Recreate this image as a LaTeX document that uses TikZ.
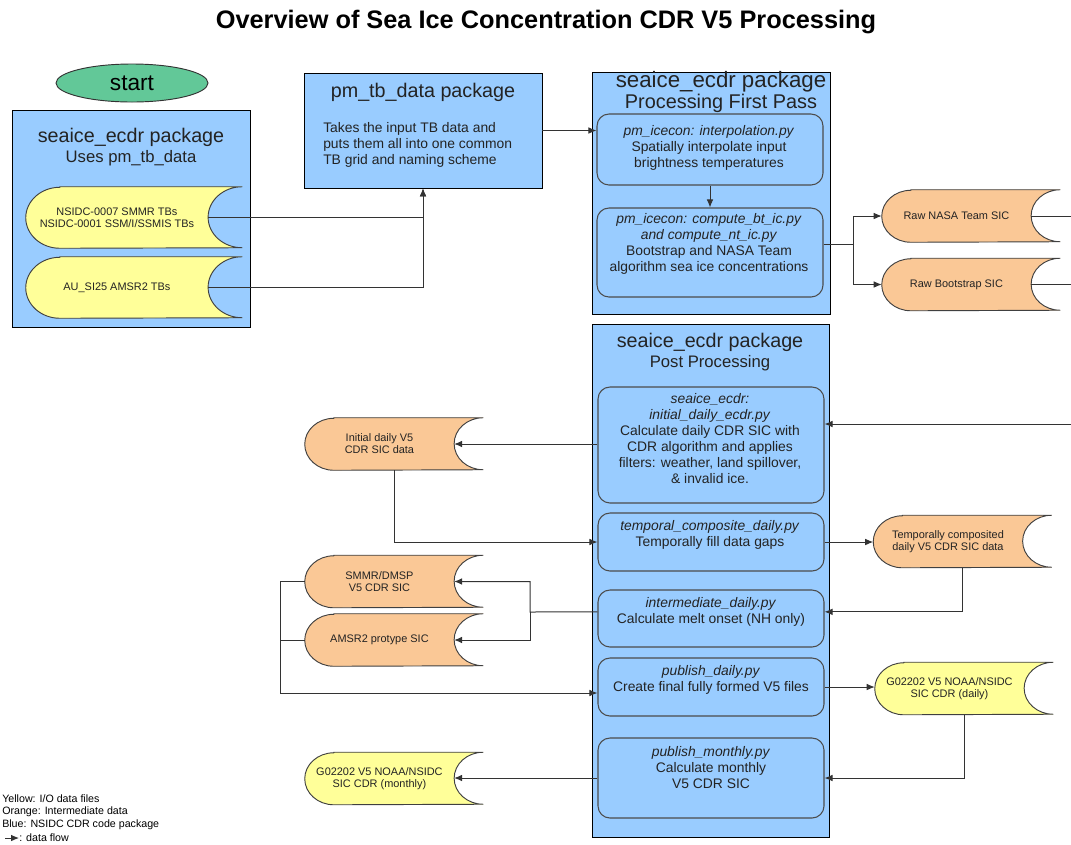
\documentclass[tikz,border=0pt]{standalone}
\usepackage{fontspec}
\setmainfont{Liberation Sans}
\usetikzlibrary{arrows.meta,positioning,shapes.geometric}

\definecolor{pkgblue}{RGB}{153,204,255}
\definecolor{iofile}{RGB}{255,255,153}
\definecolor{interdata}{RGB}{250,200,150}
\definecolor{startgreen}{RGB}{98,200,152}
\definecolor{inkgray}{RGB}{35,35,35}

\newcommand{\fsz}[2]{\fontsize{#1}{#2}\selectfont}

\tikzset{
	pkg/.style={draw=black, fill=pkgblue, line width=0.7pt, inner sep=0pt},
	pkghead/.style={font=\fsz{14.8}{16}, text=inkgray, inner sep=0pt},
	pkgsub/.style={font=\fsz{12.5}{14}, text=inkgray, inner sep=0pt},
	startnode/.style={ellipse, draw=black!80, fill=startgreen, line width=0.7pt,
		minimum width=114pt, minimum height=28.5pt, font=\fsz{17}{20}},
	pybox/.style={draw=black!70, fill=pkgblue, line width=0.8pt, rounded corners=9pt,
		minimum width=169.5pt, inner sep=0pt},
	pytext/.style={font=\fsz{10.4}{12}, align=center, text=inkgray, inner sep=0pt},
	storeline/.style={draw=black!75, line width=0.7pt},
	storetext/.style={font=\fsz{8.2}{9}, align=center, text=inkgray, inner sep=0pt},
	link/.style={draw=black!80, line width=0.75pt},
	flow/.style={link, -{Latex[length=6pt,width=5pt]}},
	legend/.style={font=\fsz{8}{9.75}, anchor=west, inner sep=0pt, text=black}
}

% data file shape: name, centre, width, height, fill, text
\newcommand{\datastore}[6]{%
	\node[minimum width=#3, minimum height=#4, inner sep=0pt] (#1) at (#2) {};
	\pgfmathsetlengthmacro{\dsbulge}{0.56*#4}
	\pgfmathsetlengthmacro{\dshalfh}{#4/2}
	\pgfmathsetlengthmacro{\dsshift}{0.28*#4}
	\filldraw[storeline, fill=#5] ([xshift=\dsbulge]#1.north west) -- (#1.north east)
		arc[start angle=90, end angle=270, x radius=\dsbulge, y radius=\dshalfh]
		-- ([xshift=\dsbulge]#1.south west)
		arc[start angle=270, end angle=90, x radius=\dsbulge, y radius=\dshalfh] -- cycle;
	\coordinate (#1-in) at ([xshift=-\dsbulge]#1.east);
	\node[storetext] (#1-t) at ([xshift=-\dsshift]#1.center) {#6};
}

\begin{document}
\begin{tikzpicture}[x=0.75pt, y=-0.75pt]
	\useasboundingbox (0,0) rectangle (1071,844);

	% title
	\node[font=\bfseries\fsz{19}{22}] (title) at (546,21.5) {Overview of Sea Ice Concentration CDR V5 Processing};
	\node[startnode] (start) at (132,83) {start};

	% input side
	\node[pkg, minimum width=178.5pt, minimum height=162.75pt] (ecdrA) at (131,218.5) {};
	\node[pkghead] (ecdrA-h) at (131,137) {seaice\_ecdr package};
	\node[pkgsub] (ecdrA-s) at (131,158) {Uses pm\_tb\_data};
	\datastore{tbA}{134,217.5}{162pt}{45.75pt}{iofile}{\fsz{8.2}{11.25}NSIDC-0007 SMMR TBs\\NSIDC-0001 SSM/I/SSMIS TBs}
	\datastore{tbB}{134,287.5}{162pt}{45.75pt}{iofile}{AU\_SI25 AMSR2 TBs}

	\node[pkg, minimum width=178.5pt, minimum height=86.25pt] (pmtb) at (423,130.5) {};
	\node[pkghead] (pmtb-h) at (423,92) {pm\_tb\_data package};
	\node[pytext, align=left, anchor=west] (pmtb-b) at (323,144.5) {Takes the input TB data and\\puts them all into one common\\TB grid and naming scheme};

	% first pass
	\node[pkg, minimum width=178.5pt, minimum height=181.5pt] (ecdrB) at (711,193) {};
	\node[pkghead, font=\fsz{16.7}{18}] (ecdrB-h) at (721,82) {seaice\_ecdr package};
	\node[pkgsub, font=\fsz{14.9}{16}] (ecdrB-s) at (721,103) {Processing First Pass};
	\node[pybox, minimum height=53.25pt] (interp) at (710,149.5) {};
	\node[pytext] (interp-t) at (709,148) {\textit{pm\_icecon: interpolation.py}\\Spatially interpolate input\\brightness temperatures};
	\node[pybox, minimum height=66.75pt] (compute) at (710,252.5) {};
	\node[pytext] (compute-t) at (709,243.5) {\textit{pm\_icecon: compute\_bt\_ic.py}\\\textit{and compute\_nt\_ic.py}\\Bootstrap and NASA Team\\algorithm sea ice concentrations};
	\datastore{rawnt}{971,216}{133.5pt}{39pt}{interdata}{Raw NASA Team SIC}
	\datastore{rawbs}{971,284.5}{133.5pt}{39pt}{interdata}{Raw Bootstrap SIC}

	% post processing
	\node[pkg, minimum width=177.75pt, minimum height=384.75pt] (ecdrC) at (710.5,580.5) {};
	\node[pkghead] (ecdrC-h) at (710,342) {seaice\_ecdr package};
	\node[pkgsub] (ecdrC-s) at (710,363) {Post Processing};
	\node[pybox, minimum height=87pt] (init) at (711,445) {};
	\node[pytext] (init-t) at (710,438.5) {\textit{seaice\_ecdr:}\\\textit{initial\_daily\_ecdr.py}\\Calculate daily CDR SIC with\\CDR algorithm and applies\\filters: weather, land spillover,\\\& invalid ice.};
	\node[pybox, minimum height=43.5pt] (tcomp) at (711,542) {};
	\node[pytext] (tcomp-t) at (710,535) {\textit{temporal\_composite\_daily.py}\\Temporally fill data gaps};
	\node[pybox, minimum height=42.75pt] (inter) at (711,618.5) {};
	\node[pytext] (inter-t) at (711,611.5) {\textit{intermediate\_daily.py}\\Calculate melt onset (NH only)};
	\node[pybox, minimum height=43.5pt] (pubd) at (711,687) {};
	\node[pytext] (pubd-t) at (711,680) {\textit{publish\_daily.py}\\Create final fully formed V5 files};
	\node[pybox, minimum height=60pt] (pubm) at (711,778) {};
	\node[pytext] (pubm-t) at (711,767.5) {\textit{publish\_monthly.py}\\Calculate monthly\\V5 CDR SIC};

	\datastore{initst}{394,444}{133.5pt}{39pt}{interdata}{Initial daily V5\\CDR SIC data}
	\datastore{smmr}{394,581.5}{133.5pt}{39pt}{interdata}{SMMR/DMSP\\V5 CDR SIC}
	\datastore{amsr}{394,640}{133.5pt}{39pt}{interdata}{AMSR2 protype SIC}
	\datastore{gmon}{394,778.5}{133.5pt}{39pt}{iofile}{G02202 V5 NOAA/NSIDC\\SIC CDR (monthly)}
	\datastore{tcst}{962.5,541.5}{133.5pt}{39pt}{interdata}{Temporally composited\\daily V5 CDR SIC data}
	\datastore{gday}{964,688.5}{133.5pt}{39pt}{iofile}{G02202 V5 NOAA/NSIDC\\SIC CDR (daily)}

	% data flow
	\draw[flow] (tbA-in) -| (pmtb.south);
	\draw[flow] (tbB-in) -| (pmtb.south);
	\draw[flow] (pmtb.east) -- (pmtb.east -| interp.west);
	\draw[flow] (interp.south) -- (interp.south |- compute.north);
	\coordinate (split) at (853,244);
	\draw[flow] (compute.east |- split) -- (split) |- (rawnt.west);
	\draw[flow] (split) |- (rawbs.west);
	\coordinate (ntedge) at (1080,216);
	\coordinate (bsedge) at (1080,284.5);
	\draw[link] (rawnt-in) -- (ntedge);
	\draw[link] (rawbs-in) -- (bsedge);

	\coordinate (initedge) at (1080,424);
	\draw[flow] (initedge) -- (initedge -| init.east);
	\draw[flow] (init.west |- initst-in) -- (initst-in);
	\draw[flow] (initst.south) |- (tcomp.west);
	\draw[flow] (tcomp.east) -- (tcomp.east -| tcst.west);
	\draw[flow] (tcst.south) |- ([yshift=5pt]inter.east);
	\coordinate (fork) at (530,612);
	\draw[flow] ([yshift=5pt]inter.west) -- (fork) |- (smmr-in);
	\draw[flow] (fork) |- (amsr-in);
	\coordinate (merge) at (280,693);
	\draw[link] (smmr.west) -| (merge);
	\draw[link] (amsr.west) -- (amsr.west -| merge);
	\draw[flow] (merge) -- (merge -| pubd.west);
	\draw[flow] (pubd.east) -- (pubd.east -| gday.west);
	\draw[flow] (gday.south) |- (pubm.east);
	\draw[flow] (pubm.west) -- (pubm.west -| gmon-in);

	% legend
	\node[legend] (legio) at (2,799) {Yellow: I/O data files};
	\node[legend] (leginter) at (2,812) {Orange: Intermediate data};
	\node[legend] (legcode) at (2,825) {Blue: NSIDC  CDR code package};
	\node[legend] (legflow) at (19,838) {: data flow};
	\coordinate (legtail) at (5,838);
	\draw[flow] (legtail) -- (legflow.west);
\end{tikzpicture}
\end{document}
